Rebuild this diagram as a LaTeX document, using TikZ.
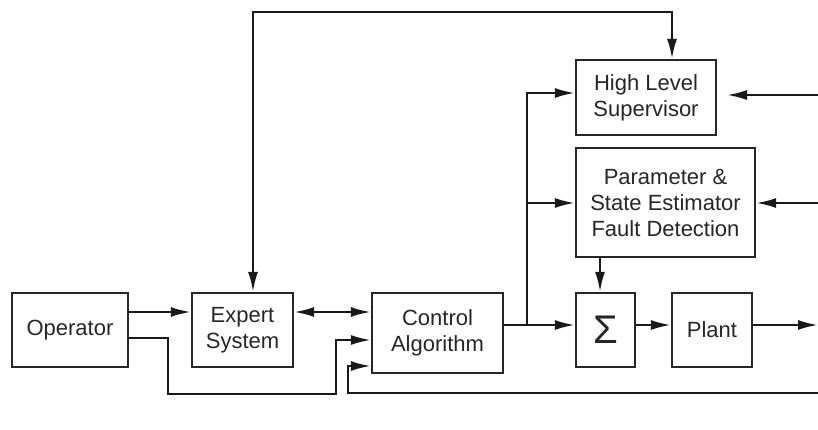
\documentclass[tikz,border=0pt]{standalone}
\usepackage{fontspec}
\setmainfont{Liberation Sans}
\usetikzlibrary{arrows.meta}
\begin{document}
\begin{tikzpicture}[x=1pt,y=-1pt,
  tip/.tip={Latex[length=20pt,width=10pt]},
  blk/.style={draw=black!85,line width=2.3pt,rectangle,inner sep=0pt,align=center,
    font=\fontsize{22}{26}\selectfont,text=black!85},
  conn/.style={line width=2.3pt,draw=black!90,-tip},
  biconn/.style={line width=2.3pt,draw=black!90,tip-tip}]
\useasboundingbox (0,0) rectangle (818,430);
\node[blk,minimum width=116pt,minimum height=74pt] (op) at (70,330) {Operator};
\node[blk,minimum width=101pt,minimum height=74pt] (es) at (242.5,330) {Expert\\System};
\node[blk,minimum width=131pt,minimum height=80pt] (ca) at (437.5,333) {Control\\Algorithm};
\node[blk,minimum width=59pt,minimum height=74pt,font=\fontsize{40}{42}\selectfont] (sum) at (605.5,330) {Σ};
\node[blk,minimum width=80pt,minimum height=74pt] (pl) at (712,330) {Plant};
\node[blk,minimum width=140pt,minimum height=75pt] (hls) at (646,97.5) {High Level\\Supervisor};
\node[blk,minimum width=179pt,minimum height=109pt] (pse) at (665.5,202.5) {Parameter \&\\State Estimator\\Fault Detection};
% level coordinates
\coordinate (y312) at (0,312);
\coordinate (y338) at (0,338);
\coordinate (y340) at (0,340);
\coordinate (y366) at (0,366);
\coordinate (y325) at (0,325);
\coordinate (y93) at (0,93);
\coordinate (y203) at (0,203);
\coordinate (x253) at (253,0);
\coordinate (x672) at (672,0);
\coordinate (x600) at (600,0);
\coordinate (br) at (527,325);
\coordinate (rtop) at (818,95);
\coordinate (rtopend) at (727,95);
\coordinate (rmid) at (818,203);
\coordinate (rout) at (818,325);
\coordinate (rfb) at (818,393);
\coordinate (fbc) at (348,393);
\coordinate (opc1) at (168,394);
\coordinate (opc2) at (336,340);
\coordinate (topy) at (0,12);
% connectors
\draw[conn] (op.east |- y312) -- (es.west |- y312);
\draw[biconn] (es.east |- y312) -- (ca.west |- y312);
\draw[biconn] (es.north -| x253) -- (x253 |- topy) -- (x672 |- topy) -- (hls.north -| x672);
\draw[conn] (op.east |- y338) -| (opc1) -| (opc2) -- (ca.west |- y340);
\draw[conn] (rfb) -- (fbc) |- (ca.west |- y366);
\draw[conn] (ca.east |- y325) -- (sum.west |- y325);
\draw[conn] (br) |- (hls.west |- y93);
\draw[conn] (br |- y203) -- (pse.west |- y203);
\draw[conn] (pse.south -| x600) -- (sum.north -| x600);
\draw[conn] (sum.east |- y325) -- (pl.west |- y325);
\draw[conn] (pl.east |- y325) -- (rout);
\draw[conn] (rtop) -- (rtopend);
\draw[conn] (rmid) -- (pse.east |- rmid);
\end{tikzpicture}
\end{document}
